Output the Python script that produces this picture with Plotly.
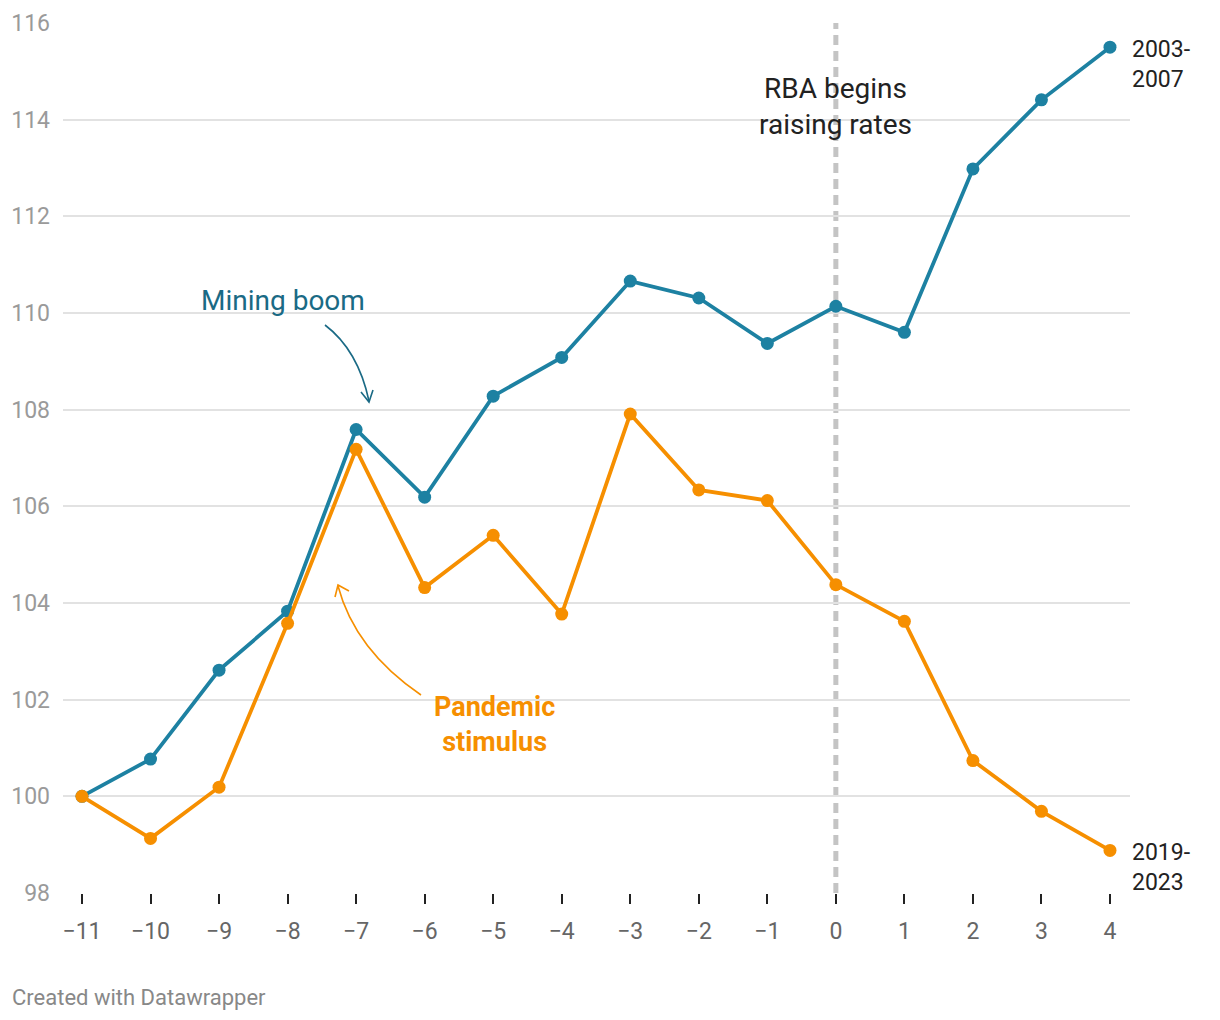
import plotly.graph_objects as go

quarters = [-11, -10, -9, -8, -7, -6, -5, -4, -3, -2, -1, 0, 1, 2, 3, 4]
boom_2003_2007 = [100.0, 100.77, 102.61, 103.83, 107.59, 106.19, 108.28, 109.08,
                  110.66, 110.31, 109.37, 110.14, 109.60, 112.98, 114.41, 115.50]
pandemic_2019_2023 = [100.0, 99.13, 100.19, 103.58, 107.18, 104.32, 105.40, 103.77,
                      107.91, 106.34, 106.12, 104.38, 103.62, 100.74, 99.69, 98.88]
y_ticks = [98, 100, 102, 104, 106, 108, 110, 112, 114, 116]

BLUE = "#1d81a2"
ORANGE = "#f68f00"
FONT = "Roboto"

# page offset of the plot div (body margin)
OFF = 8
W, H = 1220 - 2 * OFF, 1020 - 2 * OFF
# plot area geometry in page pixels
L, R, T, B = 63, 1130, 23, 893
XR = [-11.277, 4.292]
YR = [98, 116]


def px_x(px):
    return XR[0] + (px - L) / (R - L) * (XR[1] - XR[0])


def px_y(py):
    return YR[1] - (py - T) / (B - T) * (YR[1] - YR[0])


fig = go.Figure()

fig.add_trace(go.Scatter(x=quarters, y=boom_2003_2007, mode="lines+markers",
                         line=dict(color=BLUE, width=3.8),
                         marker=dict(color=BLUE, size=13), name="2003-2007",
                         cliponaxis=False))
fig.add_trace(go.Scatter(x=quarters, y=pandemic_2019_2023, mode="lines+markers",
                         line=dict(color=ORANGE, width=3.8),
                         marker=dict(color=ORANGE, size=13), name="2019-2023",
                         cliponaxis=False))

shapes = []
shapes.append(dict(type="line", xref="x", yref="paper", x0=0, x1=0, y0=0, y1=1,
                   line=dict(color="#c4c4c4", width=5, dash="10px,6px"), layer="below"))


def qpath(p0, c, p1):
    return "M {} {} Q {} {} {} {}".format(px_x(p0[0]), px_y(p0[1]), px_x(c[0]), px_y(c[1]),
                                        px_x(p1[0]), px_y(p1[1]))


def lpath(pts):
    s = "M {} {}".format(px_x(pts[0][0]), px_y(pts[0][1]))
    for p in pts[1:]:
        s += " L {} {}".format(px_x(p[0]), px_y(p[1]))
    return s


shapes.append(dict(type="path", xref="x", yref="y",
                   path=qpath((325, 325), (358, 350), (369, 401)),
                   line=dict(color="#1a6a85", width=1.6)))
shapes.append(dict(type="path", xref="x", yref="y",
                   path=lpath([(361, 392), (369, 402), (373, 390)]),
                   line=dict(color="#1a6a85", width=1.6)))
shapes.append(dict(type="path", xref="x", yref="y",
                   path=qpath((421, 695), (355, 650), (338, 586)),
                   line=dict(color=ORANGE, width=1.6)))
shapes.append(dict(type="path", xref="x", yref="y",
                   path=lpath([(335, 597), (338, 585), (349, 591)]),
                   line=dict(color=ORANGE, width=1.6)))

annotations = [
    dict(x=px_x(283), y=px_y(300), xref="x", yref="y", text="Mining boom",
         showarrow=False, font=dict(family=FONT, size=28, color="#1a6a85")),
    dict(x=px_x(494), y=px_y(724), xref="x", yref="y", text="<b>Pandemic<br>stimulus</b>",
         showarrow=False, font=dict(family=FONT, size=27, color=ORANGE)),
    dict(x=0, y=px_y(106), xref="x", yref="y", text="RBA begins<br>raising rates",
         showarrow=False, font=dict(family=FONT, size=28, color="#222222")),
    dict(x=quarters[-1], y=boom_2003_2007[-1], xref="x", yref="y", text="2003-<br>2007",
         showarrow=False, xanchor="left", yanchor="middle", xshift=20, yshift=-17, align="left",
         font=dict(family=FONT, size=23, color="#222222")),
    dict(x=quarters[-1], y=pandemic_2019_2023[-1], xref="x", yref="y", text="2019-<br>2023",
         showarrow=False, xanchor="left", yanchor="middle", xshift=20, yshift=-17, align="left",
         font=dict(family=FONT, size=23, color="#222222")),
    dict(x=(10 - L) / (R - L), y=(B - 997) / (B - T), xref="paper", yref="paper",
         text="Created with Datawrapper",
         showarrow=False, xanchor="left", yanchor="middle",
         font=dict(family=FONT, size=22, color="#888888")),
]

fig.update_layout(
    width=W, height=H,
    margin=dict(l=L - OFF, r=W - (R - OFF), t=T - OFF, b=H - (B - OFF)),
    paper_bgcolor="white", plot_bgcolor="white",
    showlegend=False,
    shapes=shapes, annotations=annotations,
    font=dict(family=FONT),
    xaxis=dict(range=XR, tickmode="array", tickvals=quarters, showgrid=False,
               zeroline=False, showline=False, ticks="outside", ticklen=10, tickwidth=2,
               tickcolor="#222222", ticklabelstandoff=7, automargin=False,
               tickfont=dict(family=FONT, size=23, color="#666666")),
    yaxis=dict(range=YR, tickmode="array", tickvals=y_ticks, showgrid=True,
               gridcolor="#e2e2e2", gridwidth=2, zeroline=False, showline=False,
               ticks="", ticklabelstandoff=12, automargin=False,
               tickfont=dict(family=FONT, size=23, color="#9a9a9a")),
)

fig.write_html("out.html")
